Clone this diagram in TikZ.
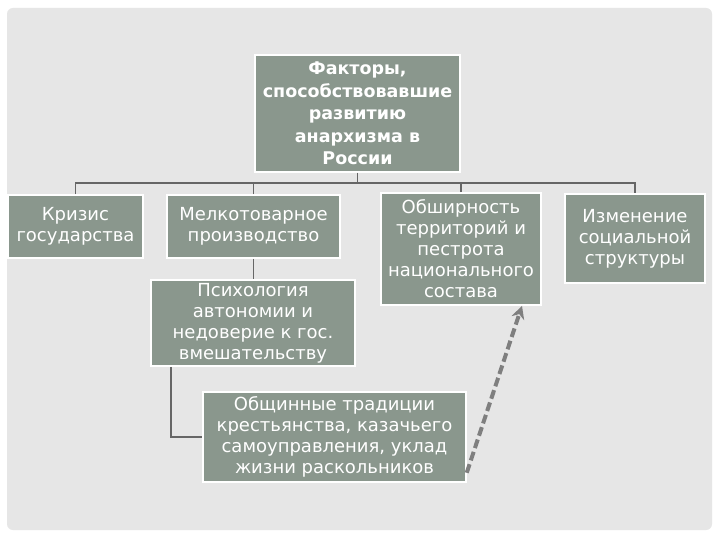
\documentclass[tikz,border=0pt]{standalone}
\usepackage{fontspec}
\setmainfont{DejaVu Sans}
\usetikzlibrary{arrows.meta}
\definecolor{boxfill}{HTML}{8A978D}
\definecolor{slidebg}{HTML}{E6E6E6}
\definecolor{linegray}{HTML}{666666}
\definecolor{dashgray}{HTML}{7F7F7F}
\tikzset{
  box/.style={draw=white, line width=1.5bp, fill=boxfill, text=white, align=center,
    inner sep=0pt, font=\fontsize{18bp}{21bp}\selectfont},
  titlebox/.style={box, font=\fontsize{17.5bp}{22.5bp}\selectfont\bfseries},
  conn/.style={draw=linegray, line width=1.6bp},
  dasharrow/.style={draw=dashgray, line width=4bp, dash pattern=on 9bp off 4bp,
    -{Stealth[length=13bp,width=13bp]}}
}
\begin{document}
\begin{tikzpicture}[x=1bp,y=-1bp]
\useasboundingbox (0,0) rectangle (720,540);
\fill[white] (0,0) rectangle (720,540);
\fill[slidebg, rounded corners=6bp] (7,8) rectangle (712,530);

\node[titlebox, minimum width=205bp, minimum height=117bp] (top) at (357.5,113.5)
  {Факторы,\\способствовавшие\\развитию\\анархизма в\\России};
\node[box, minimum width=135bp, minimum height=63bp] (kriz) at (75.5,226.5)
  {Кризис\\государства};
\node[box, minimum width=173bp, minimum height=63bp] (melk) at (253.5,226.5)
  {Мелкотоварное\\производство};
\node[box, minimum width=160bp, minimum height=112bp] (obsh) at (461,249)
  {Обширность\\территорий и\\пестрота\\национального\\состава};
\node[box, minimum width=140bp, minimum height=89bp] (izm) at (635,238.5)
  {Изменение\\социальной\\структуры};
\node[box, minimum width=204bp, minimum height=86bp] (psy) at (253,323)
  {Психология\\автономии и\\недоверие к гос.\\вмешательству};
\node[box, minimum width=263bp, minimum height=90bp] (obshch) at (334.5,437)
  {Общинные традиции\\крестьянства, казачьего\\самоуправления, уклад\\жизни раскольников};

\coordinate (bar) at (0,183);
\draw[conn] (top.south) -- (top.south |- bar);
\draw[conn] (kriz.north) -- (kriz.north |- bar) -- (izm.north |- bar) -- (izm.north);
\draw[conn] (melk.north) -- (melk.north |- bar);
\draw[conn] (obsh.north) -- (obsh.north |- bar);
\draw[conn] (melk.south) -- (psy.north -| melk.south);
\coordinate (psyout) at ([xshift=21bp]psy.south west);
\draw[conn] (psyout) |- (obshch.west);

\coordinate (dstart) at ([yshift=10bp]obshch.south east);
\coordinate (dend) at ([xshift=61bp]obsh.south);
\draw[dasharrow] (dstart) -- (dend);
\end{tikzpicture}
\end{document}
